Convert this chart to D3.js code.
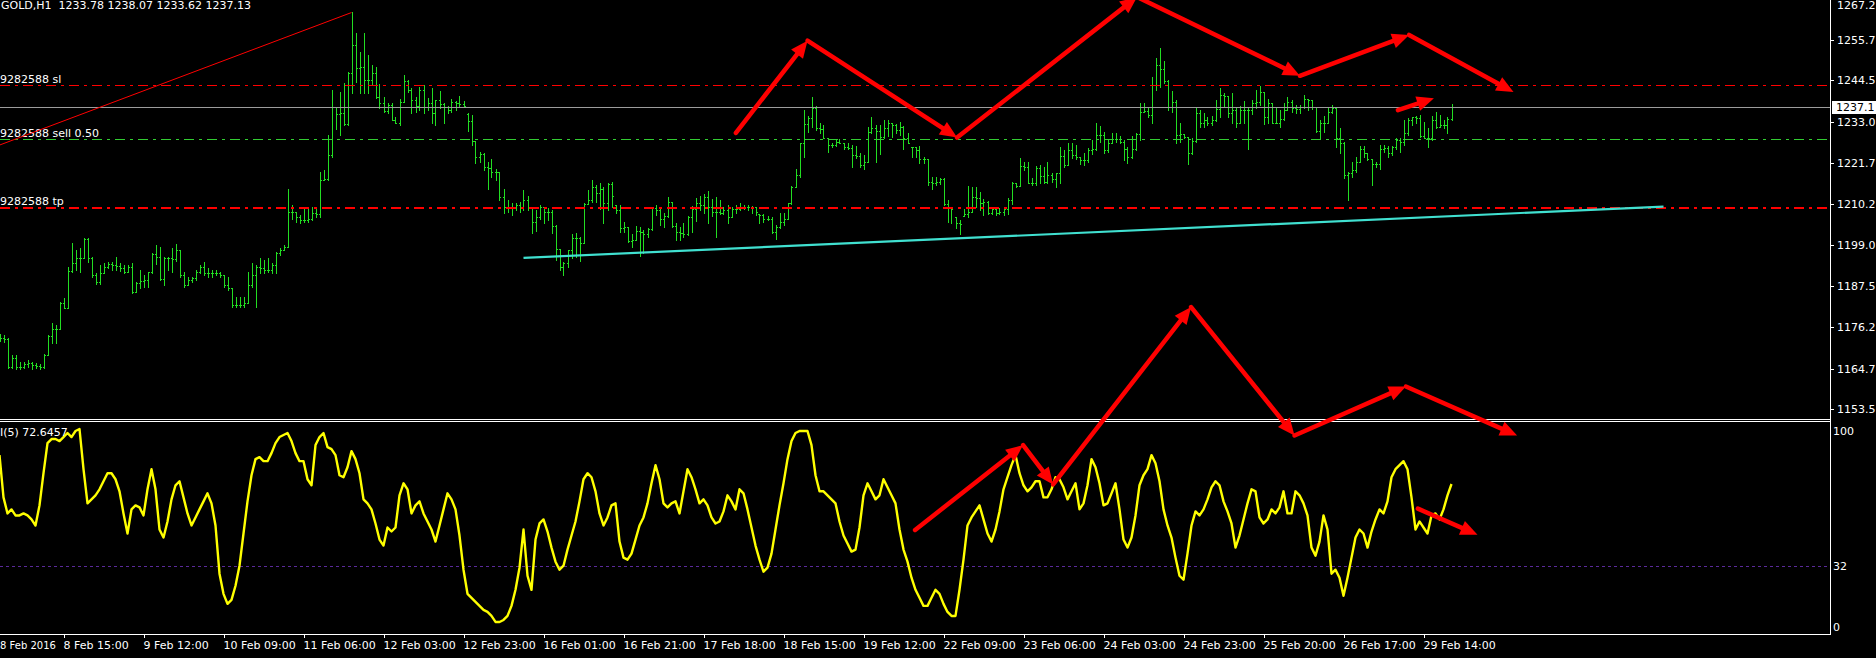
<!DOCTYPE html>
<html><head><meta charset="utf-8">
<script src="https://cdn.jsdelivr.net/npm/d3@7"></script>
<style>html,body{margin:0;padding:0;background:#000;overflow:hidden}svg{display:block}text{font-family:"DejaVu Sans",sans-serif;font-size:11px;white-space:pre}</style>
</head><body><svg id="c" width="1876" height="658"></svg>
<script>
// ---------------- DATA ----------------
const opens = [
1174.1,1173.1,1172.9,1165.3,1167.6,1165.3,1165.3,1166.0,1166.2,1165.8,
1165.5,1165.3,1168.5,1173.8,1175.6,1175.6,1182.8,1181.6,1191.8,1193.9,
1195.3,1195.3,1200.5,1195.3,1190.7,1188.8,1191.1,1193.0,1193.7,1193.4,
1193.2,1192.5,1191.6,1193.0,1186.0,1188.4,1189.1,1189.3,1191.6,1196.5,
1195.7,1189.5,1195.3,1195.3,1195.0,1197.6,1190.7,1187.9,1189.3,1189.7,
1191.6,1193.0,1191.1,1191.1,1191.1,1191.1,1190.7,1187.9,1187.0,1182.4,
1182.4,1182.5,1183.0,1187.9,1190.7,1192.8,1192.5,1192.0,1192.0,1193.4,
1196.7,1197.6,1198.5,1208.2,1208.2,1206.8,1205.9,1205.9,1206.3,1207.7,
1207.5,1217.0,1217.1,1223.9,1237.2,1235.1,1235.4,1232.4,1246.5,1254.3,
1247.9,1248.3,1244.6,1244.6,1246.5,1240.0,1238.2,1236.1,1237.7,1233.6,
1232.8,1238.6,1244.4,1241.9,1239.1,1237.4,1242.0,1237.2,1238.2,1235.4,
1239.1,1237.9,1237.2,1236.3,1238.6,1238.2,1237.9,1235.2,1233.3,1227.8,
1223.4,1224.1,1220.5,1220.2,1219.3,1219.1,1212.2,1209.6,1209.6,1209.6,
1210.0,1209.1,1211.4,1209.4,1205.2,1206.8,1209.4,1208.0,1208.0,1204.2,
1197.8,1192.8,1193.9,1197.6,1200.8,1200.8,1199.4,1210.3,1211.4,1214.9,
1213.3,1214.6,1210.7,1215.8,1210.0,1208.6,1203.6,1203.9,1200.1,1200.4,
1202.9,1202.7,1202.0,1203.4,1209.1,1208.6,1206.3,1207.0,1210.8,1204.2,
1202.7,1202.4,1202.0,1206.6,1208.8,1210.5,1210.0,1212.2,1209.6,1208.2,
1208.2,1207.9,1208.6,1206.8,1208.8,1208.8,1209.4,1209.6,1209.4,1209.4,
1207.5,1207.3,1206.1,1206.1,1202.7,1203.9,1205.2,1206.3,1210.5,1215.1,
1218.3,1227.3,1232.5,1234.0,1236.8,1231.3,1231.0,1228.5,1226.6,1226.6,
1227.6,1227.3,1226.0,1225.7,1223.9,1223.6,1221.1,1222.0,1230.3,1231.3,
1230.6,1228.9,1231.3,1232.6,1232.2,1230.8,1231.7,1228.5,1226.2,1226.0,
1225.3,1222.9,1222.7,1216.5,1216.0,1216.5,1217.1,1210.2,1209.1,1206.6,
1205.0,1207.0,1207.5,1208.2,1212.2,1211.9,1210.7,1211.0,1207.7,1208.8,
1207.7,1208.2,1208.8,1211.4,1216.0,1215.3,1220.8,1220.6,1216.2,1216.0,
1220.2,1218.1,1216.5,1218.3,1217.1,1219.0,1223.6,1221.1,1225.3,1223.9,
1223.4,1222.5,1222.5,1225.3,1225.4,1229.4,1229.4,1225.3,1227.3,1228.2,
1228.2,1227.6,1225.4,1223.4,1225.4,1229.7,1235.9,1236.1,1234.9,1243.2,
1248.8,1247.6,1244.4,1237.2,1238.6,1229.4,1229.7,1228.9,1224.3,1227.8,
1235.6,1232.6,1233.6,1232.6,1233.6,1236.5,1240.5,1240.2,1235.4,1236.3,
1232.6,1236.3,1236.3,1236.3,1238.4,1238.6,1241.4,1234.5,1238.4,1232.8,
1232.8,1233.7,1236.3,1238.6,1236.8,1236.5,1237.2,1239.3,1239.1,1237.2,
1230.6,1232.8,1232.6,1235.9,1236.8,1228.5,1227.1,1218.3,1218.8,1219.7,
1222.0,1225.4,1224.3,1222.7,1221.4,1221.4,1225.4,1225.7,1224.3,1226.0,
1228.0,1227.6,1229.9,1233.6,1234.3,1234.0,1229.0,1228.5,1228.5,1233.6,
1231.5,1232.2,1232.2,1233.78];
const highs = [
1174.3,1174.1,1173.1,1168.5,1168.5,1166.7,1166.7,1167.1,1166.7,1166.4,
1166.0,1168.8,1174.1,1177.3,1176.8,1183.3,1184.2,1193.0,1199.4,1197.6,
1198.0,1200.8,1200.8,1195.7,1191.1,1193.4,1193.9,1194.3,1194.3,1195.7,
1193.9,1193.4,1193.4,1193.9,1188.8,1192.0,1190.7,1191.6,1196.7,1199.0,
1198.3,1195.7,1195.7,1198.0,1199.2,1197.6,1191.6,1190.2,1190.2,1192.0,
1193.4,1194.3,1192.5,1192.0,1192.0,1191.6,1190.7,1190.2,1187.0,1184.7,
1184.7,1184.7,1191.6,1193.9,1193.4,1195.3,1194.8,1195.3,1193.9,1197.1,
1198.0,1199.0,1214.6,1210.0,1208.2,1207.3,1209.1,1209.1,1209.6,1209.1,
1219.3,1219.7,1229.4,1241.9,1237.2,1241.4,1243.7,1246.9,1263.5,1257.5,
1252.5,1257.5,1251.5,1248.8,1248.3,1243.5,1239.8,1238.2,1238.2,1234.5,
1239.3,1246.0,1244.6,1242.3,1239.8,1242.6,1243.2,1239.6,1242.3,1239.1,
1241.6,1238.2,1237.4,1239.3,1238.9,1240.2,1238.9,1235.4,1234.9,1227.8,
1224.8,1224.3,1221.8,1222.8,1219.9,1219.1,1214.6,1211.4,1210.5,1210.5,
1211.0,1214.2,1212.5,1209.4,1208.6,1210.0,1209.4,1209.1,1208.6,1204.5,
1197.8,1194.3,1197.6,1202.0,1202.4,1201.3,1210.7,1214.2,1217.0,1215.6,
1216.0,1215.1,1216.0,1216.5,1210.0,1210.0,1205.3,1204.0,1202.0,1204.2,
1203.9,1203.1,1203.6,1209.1,1210.0,1208.8,1207.9,1212.3,1211.0,1205.0,
1204.0,1205.0,1207.0,1209.8,1211.9,1212.5,1213.1,1213.9,1211.6,1212.3,
1211.4,1209.6,1210.0,1209.4,1210.0,1210.5,1210.0,1210.0,1209.8,1209.4,
1207.5,1207.5,1207.0,1206.8,1204.5,1207.9,1207.7,1210.7,1215.3,1219.9,
1227.3,1236.3,1234.7,1239.8,1237.4,1232.6,1232.2,1228.5,1227.3,1228.0,
1228.2,1227.3,1227.1,1226.6,1226.4,1224.3,1223.9,1231.5,1234.5,1232.2,
1232.2,1233.6,1233.6,1232.8,1232.4,1233.1,1231.9,1229.9,1226.2,1226.2,
1226.4,1223.4,1222.7,1217.9,1217.9,1217.4,1217.4,1211.4,1209.1,1206.6,
1205.9,1208.8,1215.3,1215.1,1215.1,1213.7,1211.6,1211.1,1209.6,1209.1,
1209.1,1209.4,1211.9,1216.5,1216.0,1223.0,1222.0,1222.0,1217.4,1220.8,
1221.1,1220.6,1221.8,1218.8,1219.0,1226.0,1225.3,1227.3,1227.1,1226.6,
1223.4,1224.3,1225.7,1228.0,1232.6,1231.9,1230.3,1228.0,1229.9,1230.1,
1229.1,1228.0,1226.2,1229.0,1229.9,1238.2,1238.2,1237.2,1245.5,1250.6,
1253.4,1250.0,1244.6,1241.7,1239.1,1232.6,1229.7,1228.9,1228.5,1236.8,
1236.3,1235.4,1234.3,1234.7,1239.1,1242.3,1240.9,1240.2,1240.9,1237.2,
1237.4,1238.9,1237.2,1239.1,1241.9,1243.0,1241.4,1239.3,1238.4,1237.1,
1236.3,1238.2,1239.8,1239.1,1237.7,1237.7,1240.5,1239.3,1239.1,1237.2,
1233.6,1234.7,1237.1,1237.7,1236.8,1231.3,1227.6,1219.3,1222.0,1223.4,
1226.4,1226.4,1224.3,1222.9,1222.0,1226.6,1226.6,1226.4,1226.4,1228.5,
1228.5,1233.6,1234.0,1234.5,1234.7,1234.9,1233.1,1231.3,1234.7,1235.9,
1234.9,1233.6,1234.5,1238.07];
const lows = [
1172.5,1172.2,1164.8,1164.8,1164.6,1164.6,1164.8,1165.3,1164.6,1164.8,
1164.6,1164.8,1168.5,1171.8,1171.9,1175.6,1181.4,1181.4,1191.6,1192.0,
1191.6,1195.3,1194.3,1190.2,1188.3,1188.3,1191.1,1192.5,1192.0,1192.0,
1191.9,1191.1,1191.6,1185.8,1186.0,1187.0,1187.4,1187.4,1191.1,1193.7,
1189.3,1187.9,1192.0,1191.6,1194.6,1190.2,1187.4,1187.9,1188.8,1189.3,
1191.1,1190.7,1190.2,1190.2,1190.7,1190.2,1187.4,1186.5,1181.9,1181.9,
1181.9,1181.9,1182.8,1187.4,1181.7,1191.1,1191.1,1191.6,1191.1,1191.1,
1196.2,1197.6,1198.5,1206.3,1205.4,1205.0,1205.4,1205.4,1205.9,1206.8,
1206.8,1217.0,1217.0,1223.4,1231.2,1229.4,1232.2,1232.2,1240.9,1244.2,
1240.9,1240.9,1240.9,1243.2,1239.6,1236.8,1235.9,1235.4,1233.6,1232.6,
1232.2,1238.6,1241.4,1235.4,1235.9,1236.3,1235.4,1236.3,1232.6,1232.2,
1236.8,1232.8,1235.6,1235.9,1236.3,1237.1,1237.1,1230.6,1226.6,1221.7,
1222.0,1219.7,1214.6,1217.9,1217.0,1211.4,1207.7,1208.2,1207.3,1208.6,
1208.2,1208.6,1208.6,1202.2,1202.9,1206.3,1205.0,1205.9,1202.2,1194.8,
1192.0,1190.7,1193.0,1195.3,1195.7,1194.6,1199.4,1210.3,1211.0,1211.0,
1208.8,1205.0,1208.6,1209.6,1207.7,1202.7,1202.7,1199.7,1198.3,1200.4,
1195.9,1196.7,1201.3,1203.1,1207.3,1204.5,1204.0,1206.6,1204.0,1200.4,
1200.4,1201.3,1201.8,1202.7,1205.7,1208.6,1207.7,1205.0,1207.0,1201.3,
1207.5,1207.5,1205.1,1206.8,1207.7,1208.6,1208.8,1208.6,1207.9,1207.3,
1205.1,1205.4,1205.9,1202.2,1200.5,1203.8,1204.5,1206.1,1210.3,1215.1,
1217.9,1223.4,1230.3,1231.7,1230.8,1230.1,1228.5,1224.8,1226.0,1226.4,
1227.1,1225.4,1225.4,1220.6,1223.0,1220.6,1219.9,1222.0,1229.9,1222.0,
1224.1,1228.5,1229.1,1228.8,1229.9,1229.4,1225.4,1227.1,1223.4,1223.4,
1221.7,1221.7,1215.6,1214.6,1215.6,1215.8,1210.0,1205.4,1205.0,1203.6,
1202.0,1207.0,1206.8,1208.0,1209.6,1208.6,1207.3,1207.5,1207.5,1207.3,
1207.5,1207.3,1207.5,1210.3,1215.1,1215.3,1219.7,1216.0,1215.6,1215.6,
1216.0,1216.0,1216.2,1216.5,1215.1,1216.2,1220.6,1221.0,1223.0,1222.7,
1221.4,1221.1,1222.0,1224.1,1225.3,1227.6,1224.3,1224.8,1227.1,1227.6,
1227.1,1222.5,1221.7,1223.0,1225.3,1228.0,1235.9,1234.5,1232.6,1241.9,
1242.8,1243.9,1236.3,1235.9,1227.1,1227.6,1228.5,1221.4,1224.1,1227.6,
1231.5,1231.5,1232.2,1232.2,1233.4,1234.5,1237.2,1234.5,1232.6,1231.5,
1232.6,1232.6,1225.4,1235.2,1236.8,1237.7,1232.4,1232.8,1232.6,1232.6,
1231.5,1233.5,1236.3,1235.9,1235.4,1235.4,1237.0,1236.3,1236.5,1230.3,
1228.2,1230.3,1232.6,1235.4,1226.2,1224.3,1217.4,1211.4,1217.9,1219.3,
1222.0,1223.4,1222.5,1215.6,1220.6,1219.9,1224.8,1223.4,1223.9,1225.4,
1224.8,1226.6,1229.4,1232.2,1232.6,1228.8,1228.5,1226.2,1228.0,1231.3,
1231.5,1231.3,1230.1,1233.62];
const closes = [
1173.1,1172.9,1165.3,1167.6,1165.3,1165.3,1166.0,1166.2,1165.8,1165.5,
1165.3,1168.5,1173.8,1175.6,1175.6,1182.8,1181.6,1191.8,1193.9,1195.3,
1195.3,1200.5,1195.3,1190.7,1188.8,1191.1,1193.0,1193.7,1193.4,1193.2,
1192.5,1191.6,1193.0,1186.0,1188.4,1189.1,1189.3,1191.6,1196.5,1195.7,
1189.5,1195.3,1195.3,1195.0,1197.6,1190.7,1187.9,1189.3,1189.7,1191.6,
1193.0,1191.1,1191.1,1191.1,1191.1,1190.7,1187.9,1187.0,1182.4,1182.4,
1182.5,1183.0,1187.9,1190.7,1192.8,1192.5,1192.0,1192.0,1193.4,1196.7,
1197.6,1198.5,1208.2,1208.2,1206.8,1205.9,1205.9,1206.3,1207.7,1207.5,
1217.0,1217.1,1223.9,1237.2,1235.1,1235.4,1232.4,1246.5,1254.3,1247.9,
1248.3,1244.6,1244.6,1246.5,1240.0,1238.2,1236.1,1237.7,1233.6,1232.8,
1238.6,1244.4,1241.9,1239.1,1237.4,1242.0,1237.2,1238.2,1235.4,1239.1,
1237.9,1237.2,1236.3,1238.6,1238.2,1237.9,1237.5,1233.3,1227.8,1223.4,
1224.1,1220.5,1220.2,1219.3,1219.1,1212.2,1209.6,1209.6,1209.6,1210.0,
1209.1,1211.4,1209.4,1205.2,1206.8,1209.4,1208.0,1208.0,1204.2,1197.8,
1192.8,1193.9,1197.6,1200.8,1200.8,1199.4,1210.3,1211.4,1214.9,1213.3,
1214.6,1210.7,1215.8,1212.6,1208.6,1203.6,1203.9,1200.1,1200.4,1202.9,
1202.7,1202.0,1203.4,1209.1,1208.6,1206.3,1207.0,1210.8,1204.2,1202.7,
1202.4,1202.0,1206.6,1208.8,1210.5,1210.0,1212.2,1209.6,1208.2,1208.2,
1207.9,1208.6,1206.8,1208.8,1208.8,1209.4,1209.6,1209.4,1209.4,1208.2,
1207.3,1206.1,1206.1,1202.7,1203.9,1205.2,1206.3,1210.5,1215.1,1218.3,
1227.3,1232.5,1234.0,1236.8,1231.3,1231.0,1228.5,1226.6,1226.6,1227.6,
1227.3,1226.0,1225.7,1223.9,1223.6,1221.1,1222.0,1230.3,1231.3,1230.6,
1228.9,1231.3,1232.6,1232.2,1230.8,1231.7,1228.5,1227.3,1226.0,1225.3,
1222.9,1222.7,1216.5,1216.0,1216.5,1217.1,1210.2,1209.1,1208.8,1205.0,
1204.8,1207.5,1208.2,1212.2,1211.9,1210.7,1211.0,1207.7,1208.8,1207.7,
1208.2,1208.8,1211.4,1216.0,1215.3,1220.8,1220.6,1216.2,1216.0,1220.2,
1218.1,1216.5,1218.3,1217.1,1219.0,1223.6,1221.1,1225.3,1223.9,1223.4,
1222.5,1222.5,1225.3,1225.4,1229.4,1229.4,1225.3,1227.3,1228.2,1228.2,
1227.6,1225.4,1223.4,1225.4,1229.7,1235.9,1236.1,1234.9,1243.2,1248.8,
1247.6,1244.4,1237.2,1238.6,1229.4,1229.7,1228.9,1224.3,1227.8,1235.6,
1232.6,1233.6,1232.6,1233.6,1236.5,1240.5,1240.2,1235.4,1236.3,1232.6,
1236.3,1236.3,1236.3,1238.4,1238.6,1241.4,1234.5,1238.4,1232.8,1232.8,
1233.7,1236.3,1238.6,1236.8,1236.5,1237.2,1239.3,1239.1,1237.2,1230.6,
1232.8,1232.6,1235.9,1236.8,1228.5,1227.1,1218.3,1218.8,1219.7,1222.0,
1225.4,1224.3,1222.7,1221.4,1221.4,1225.4,1225.7,1224.3,1226.0,1228.0,
1227.6,1229.9,1233.6,1234.3,1234.0,1229.0,1228.5,1228.5,1233.6,1231.5,
1232.2,1232.2,1233.7,1237.13];
const rsiValues = [
87,66,58,60,57,57,58,57,55,52, 62,78,93,95,95,94,96,98,96,99,
100,80,63,65,67,70,74,78,78,75, 69,58,48,60,62,61,57,70,80,70,
50,46,54,65,72,74,66,58,52,56, 60,64,68,63,52,28,18,13,15,22,
32,48,64,77,85,86,84,84,88,93, 96,97,98,94,88,84,84,75,72,92,
96,98,91,90,87,77,76,81,89,85, 78,65,63,60,53,45,42,51,49,51,
67,73,70,58,62,64,58,54,50,44, 52,60,68,65,60,47,30,18,16,14,
12,10,9,7,4,4,5,7,12,20, 31,50,27,20,45,53,55,49,41,34,
30,32,40,47,54,64,75,78,76,69, 58,52,56,62,63,44,36,35,38,45,
52,56,63,73,82,75,63,61,63,64, 58,69,80,76,70,63,65,62,56,53,
54,59,67,64,60,70,68,60,51,42, 35,29,31,38,50,62,73,85,94,98,
99,99,99,92,77,69,69,67,65,63, 54,47,43,39,40,51,67,73,69,65,
67,75,71,67,63,50,40,34,26,20, 16,12,12,16,20,18,13,9,7,7,
20,35,52,56,59,62,55,48,44,50, 59,70,76,82,87,78,72,69,71,74,
74,66,66,70,76,75,71,65,69,73, 60,63,72,85,81,73,62,63,68,73,
60,45,41,46,57,72,77,80,87,83, 74,60,52,46,36,27,25,38,52,59,
57,60,65,71,74,72,64,59,53,41, 47,55,63,70,69,56,53,55,60,58,
61,69,58,58,69,67,63,57,41,37, 44,57,50,28,30,26,17,26,36,46,
50,48,41,49,55,60,58,64,76,80, 82,84,80,66,50,54,51,48,57,58,
55,60,67,72.6457];

const priceTicks = [1267.2,1255.7,1244.5,1233.0,1221.7,1210.2,1199.0,1187.5,1176.2,1164.7,1153.5];
const rsiTicks = [100,32,0];
const rsiLevel = 32;
const timeLabels = ["8 Feb 2016","8 Feb 15:00","9 Feb 12:00","10 Feb 09:00","11 Feb 06:00","12 Feb 03:00","12 Feb 23:00","16 Feb 01:00","16 Feb 21:00","17 Feb 18:00","18 Feb 15:00","19 Feb 12:00","22 Feb 09:00","23 Feb 06:00","24 Feb 03:00","24 Feb 23:00","25 Feb 20:00","26 Feb 17:00","29 Feb 14:00"];
const timeLabelBars = [-4,16,36,56,76,96,116,136,156,176,196,216,236,256,276,296,316,336,356];
const levelNames = ["9282588 sl","9282588 sell 0.50","9282588 tp"];
const levelPrices = [1243.2,1228.2,1209.1];
const currentPrice = 1237.13;
const currentPriceLabel = "1237.1";
const headerText = "GOLD,H1  1233.78 1238.07 1233.62 1237.13";
const rsiLabel = "I(5) 72.6457";
const redTrendBars = [-1,88];
const redTrendPrices = [1226.2,1263.3];
const cyanTrendBars = [131,416];
const cyanTrendPrices = [1195.4,1209.6];
const upperArrowBars = [184.1,202.0,239.4,284.4,325.1,352.4,378.5];
const upperArrowPrices = [1230.0,1255.5,1228.7,1267.6,1245.8,1257.1,1241.3];
const lowerArrowBars = [228.9,255.9,263.4,297.9,323.75,351.6,379.4];
const lowerArrowPrices = [1120.1,1143.6,1132.7,1181.8,1146.25,1159.8,1146.25];
const smallArrowBars = [[349.6,358.6],[354.6,369.5]];
const smallArrowPrices = [[1236.3,1239.6],[1126.0,1118.8]];

// ---------------- DRAW ----------------
const svg = d3.select("#c");
const axisX = 1830, mainBottom = 419, indTop = 421, indBottom = 634;
svg.append("rect").attr("width",1876).attr("height",658).attr("fill","#000");

const x = d3.scaleLinear().domain([0,363]).range([-0.5,1451.5]);
const y = d3.scaleLinear().domain([1153.5,1255.7]).range([409.3,40]);
const yR = d3.scaleLinear().domain([0,100]).range([630,429]);

const defs = svg.append("defs");
defs.append("clipPath").attr("id","mainClip").append("rect").attr("x",0).attr("y",0).attr("width",axisX).attr("height",mainBottom);
defs.append("clipPath").attr("id","indClip").append("rect").attr("x",0).attr("y",indTop+1).attr("width",axisX).attr("height",indBottom-indTop-1);

const main = svg.append("g").attr("clip-path","url(#mainClip)");
const barColor = "#22dd22";
const barG = main.append("g").attr("fill",barColor);
const idx = d3.range(closes.length);
idx.forEach(i=>{
  const X = Math.round(x(i));
  const yh = Math.round(y(highs[i])), yl = Math.round(y(lows[i]));
  barG.append("rect").attr("x",X).attr("y",yh).attr("width",1).attr("height",Math.max(1,yl-yh+1));
  barG.append("rect").attr("x",X-1).attr("y",Math.round(y(opens[i]))).attr("width",1).attr("height",1);
  barG.append("rect").attr("x",X+1).attr("y",Math.round(y(closes[i]))).attr("width",1).attr("height",1);
});

// level lines
const levelColors = ["#ff0000","#32cd32","#ff0000"];
const levelWidths = [1,1,2];
levelPrices.forEach((p,k)=>{
  const yy = Math.round(y(p)) + (levelWidths[k]===1?0.5:0);
  main.append("line").attr("x1",0).attr("x2",axisX-2).attr("y1",yy).attr("y2",yy)
    .attr("stroke",levelColors[k]).attr("stroke-width",levelWidths[k]).attr("stroke-dasharray","10,5,3,5");
  main.append("text").attr("x",0).attr("y",yy-3).attr("fill","#fff").text(levelNames[k]);
});
// current price line
const yc = Math.round(y(currentPrice))+0.5;
main.append("line").attr("x1",0).attr("x2",axisX).attr("y1",yc).attr("y2",yc).attr("stroke","#9c9c9c").attr("stroke-width",1);

// trend lines
main.append("line").attr("x1",x(redTrendBars[0])).attr("y1",y(redTrendPrices[0])).attr("x2",x(redTrendBars[1])).attr("y2",y(redTrendPrices[1]))
  .attr("stroke","#ff0000").attr("stroke-width",1);
main.append("line").attr("x1",x(cyanTrendBars[0])).attr("y1",y(cyanTrendPrices[0])).attr("x2",x(cyanTrendBars[1])).attr("y2",y(cyanTrendPrices[1]))
  .attr("stroke","#40e0d0").attr("stroke-width",2.2);

// header
svg.append("text").attr("x",1).attr("y",9).attr("fill","#fff").text(headerText);

// indicator
const ind = svg.append("g").attr("clip-path","url(#indClip)");
ind.append("line").attr("x1",0).attr("x2",axisX).attr("y1",Math.round(yR(rsiLevel))+0.5).attr("y2",Math.round(yR(rsiLevel))+0.5)
  .attr("stroke","#5a2a9a").attr("stroke-width",1).attr("stroke-dasharray","3,3");
ind.append("path").datum(rsiValues)
  .attr("d",d3.line().x((d,i)=>x(i)).y(d=>yR(d)))
  .attr("fill","none").attr("stroke","#ffff00").attr("stroke-width",2.4).attr("stroke-linejoin","round");
svg.append("text").attr("x",0).attr("y",436).attr("fill","#fff").text(rsiLabel);

// frames
const fr = svg.append("g").attr("stroke","#fff").attr("stroke-width",1).attr("shape-rendering","crispEdges");
fr.append("line").attr("x1",0).attr("x2",axisX+0.5).attr("y1",mainBottom+0.5).attr("y2",mainBottom+0.5);
fr.append("line").attr("x1",0).attr("x2",axisX+0.5).attr("y1",indTop+0.5).attr("y2",indTop+0.5);
fr.append("line").attr("x1",0).attr("x2",axisX+0.5).attr("y1",indBottom+0.5).attr("y2",indBottom+0.5);
fr.append("line").attr("x1",axisX+0.5).attr("x2",axisX+0.5).attr("y1",0).attr("y2",indBottom+0.5);

// price axis
priceTicks.forEach(v=>{
  const yy = Math.round(y(v))+0.5;
  fr.append("line").attr("x1",axisX).attr("x2",axisX+4).attr("y1",yy).attr("y2",yy);
  svg.append("text").attr("x",axisX+7).attr("y",Math.max(yy,5)).attr("dy","0.36em").attr("fill","#fff").text(d3.format(".1f")(v));
});
// current price box
svg.append("rect").attr("x",axisX+2).attr("y",Math.round(y(currentPrice))-6).attr("width",46).attr("height",13).attr("fill","#fff");
svg.append("text").attr("x",axisX+6).attr("y",y(currentPrice)).attr("dy","0.36em").attr("fill","#000").text(currentPriceLabel);

// rsi axis
rsiTicks.forEach(v=>{
  const yy = Math.min(Math.max(yR(v),431),627);
  svg.append("text").attr("x",axisX+3).attr("y",yy).attr("dy","0.36em").attr("fill","#fff").text(String(v));
});

// time axis
timeLabelBars.forEach((b,k)=>{
  const X = Math.round(x(b))+0.5;
  if (X >= 0) fr.append("line").attr("x1",X).attr("x2",X).attr("y1",indBottom).attr("y2",indBottom+4);
  const t = svg.append("text").attr("x",Math.max(X-1,0)).attr("y",649).attr("fill","#fff").text(timeLabels[k]);
  if (X < 0) t.style("font-size","10px");
});

// arrows
const arrowG = svg.append("g");
function arrow(x1,y1,x2,y2){
  const dx=x2-x1, dy=y2-y1, L=Math.hypot(dx,dy), ux=dx/L, uy=dy/L;
  const hl=17, hw=7.5;
  const bx=x2-ux*hl, by=y2-uy*hl;
  arrowG.append("line").attr("x1",x1).attr("y1",y1).attr("x2",bx+ux*3).attr("y2",by+uy*3)
    .attr("stroke","#ff0000").attr("stroke-width",4.5).attr("stroke-linecap","round");
  arrowG.append("path").attr("d",`M${x2},${y2}L${bx-uy*hw},${by+ux*hw}L${bx+uy*hw},${by-ux*hw}Z`).attr("fill","#ff0000");
}
function chain(bs,ps){
  for(let k=0;k<bs.length-1;k++) arrow(x(bs[k]),y(ps[k]),x(bs[k+1]),y(ps[k+1]));
}
chain(upperArrowBars,upperArrowPrices);
chain(lowerArrowBars,lowerArrowPrices);
smallArrowBars.forEach((bs,k)=>chain(bs,smallArrowPrices[k]));
</script>
</body></html>
